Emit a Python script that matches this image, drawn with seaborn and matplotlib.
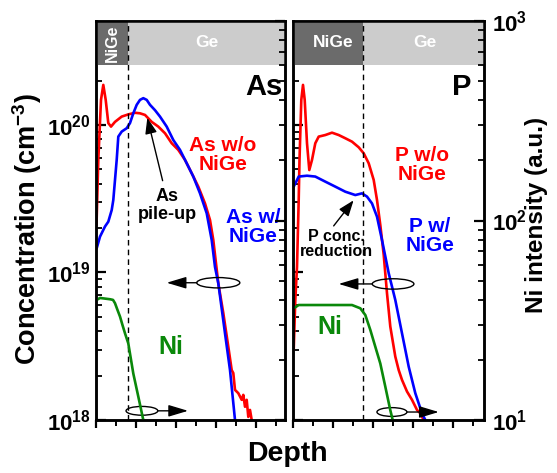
import numpy as np
import pandas as pd
import seaborn as sns
import matplotlib
matplotlib.use("Agg")
import matplotlib.pyplot as plt
from matplotlib.patches import Ellipse
from matplotlib.ticker import LogLocator, MultipleLocator, NullFormatter, FuncFormatter

# ---------------- data (depth in arbitrary units, concentration cm^-3, Ni a.u.) -------------
as_wo_depth = [0.25, 1.15, 2.5, 3.65, 4.85, 6.15, 7.5, 9.5, 12.85, 16.15, 19.5, 22, 24.5, 27.85,
               31.15, 34.5, 37.85, 41.15, 44.5, 47.85, 51.15, 54.5, 57, 58.65, 61.15, 63.65,
               66.15, 67.85, 68.65, 69.5, 71.15, 72.85, 73.65, 74.5, 75.35, 76.15, 77, 77.85]
as_wo_conc = [2.10e19, 5.80e19, 1.48e20, 1.87e20, 1.48e20, 1.03e20, 9.75e19, 1.05e20, 1.14e20,
              1.18e20, 1.21e20, 1.20e20, 1.17e20, 1.05e20, 9.75e19, 8.79e19, 7.52e19, 6.78e19,
              5.80e19, 4.71e19, 3.82e19, 2.94e19, 2.27e19, 1.66e19, 8.45e18, 5.31e18, 3.14e18,
              2.18e18, 2.08e18, 1.60e18, 1.52e18, 1.37e18, 1.48e18, 1.23e18, 1.37e18, 1.05e18,
              1.17e18, 1.0e18]

as_w_depth = [0.35, 2, 4.5, 6.15, 7.85, 8.65, 9.5, 10.35, 11.15, 12.85, 15.35, 17, 18.65, 20.35,
              22, 23.65, 25.35, 27, 29.5, 32, 35.35, 38.65, 42, 45.35, 48.65, 52, 55.35, 57.85,
              59.5, 61.15, 64.5, 67, 69.5]
as_w_conc = [1.46e19, 1.75e19, 2.05e19, 2.21e19, 2.65e19, 3.10e19, 4.24e19, 5.80e19, 8.34e19,
             9.02e19, 9.51e19, 1.03e20, 1.20e20, 1.37e20, 1.48e20, 1.52e20, 1.48e20, 1.37e20,
             1.26e20, 1.14e20, 9.75e19, 7.91e19, 6.78e19, 5.50e19, 4.47e19, 3.44e19, 2.52e19,
             1.66e19, 1.09e19, 8.45e18, 3.87e18, 2.18e18, 1.0e18]

ni_as_depth = [0.35, 2, 7, 8.5, 9.5, 10.75, 12, 13.25, 14.5, 16.15, 18.65, 21.15, 23.65]
ni_as_int = [40.0, 40.9, 40.3, 40.0, 38.5, 35.6, 33.0, 29.9, 27.2, 24.2, 17.1, 13.1, 10.0]

p_wo_depth = [0.35, 1.15, 2, 2.85, 3.25, 4.15, 5, 5.85, 7, 8.15, 9.5, 11.15, 12.85, 16.15, 19.5,
              22.85, 26.15, 29.5, 32.85, 35.35, 37.85, 40.35, 42, 43.65, 45.35, 47, 48.65, 51.15,
              52.85, 54.5, 57, 59.5, 62, 63.65, 65.35]
p_wo_conc = [2.99e18, 6.51e18, 1.09e19, 3.10e19, 5.80e19, 1.48e20, 1.87e20, 1.48e20, 7.52e19,
             4.95e19, 5.80e19, 7.52e19, 8.34e19, 8.55e19, 8.87e19, 8.55e19, 8.13e19, 7.71e19,
             7.06e19, 6.43e19, 5.50e19, 4.24e19, 3.10e19, 2.10e19, 1.32e19, 7.23e18, 4.30e18,
             2.69e18, 2.18e18, 1.87e18, 1.56e18, 1.37e18, 1.17e18, 1.11e18, 1.0e18]

p_w_depth = [0.35, 2.85, 7, 11.15, 16.15, 21.15, 26.15, 31.15, 34.5, 37, 39.5, 42, 44.5, 47.85,
             51.15, 54.5, 57.85, 61.15, 64.5, 66.15]
p_w_conc = [3.82e19, 4.47e19, 4.53e19, 4.47e19, 4.13e19, 3.82e19, 3.53e19, 3.35e19, 3.44e19,
            3.27e19, 2.94e19, 2.39e19, 1.66e19, 9.89e18, 6.51e18, 3.87e18, 2.30e18, 1.52e18,
            1.11e18, 1.0e18]

ni_p_depth = [0.35, 2.85, 16.15, 29.5, 33.65, 36.15, 38.65, 41.15, 43.65, 46.15, 48.65, 49.85]
ni_p_int = [36.3, 37.7, 37.7, 37.7, 36.3, 33.6, 28.3, 23.3, 19.2, 14.7, 11.2, 10.0]

interface_as = 16.15
interface_p = 35.15

RED, BLUE, GREEN = "#ff0000", "#0000ff", "#0a880a"
DARK, LIGHT = "#6b6b6b", "#cccccc"

# ---------------- style ----------------
sns.set_style("ticks")
plt.rcParams["font.family"] = ["Liberation Sans", "DejaVu Sans"]
plt.rcParams["font.weight"] = "bold"
plt.rcParams["text.color"] = "black"
plt.rcParams["axes.edgecolor"] = "black"
plt.rcParams["xtick.color"] = "black"
plt.rcParams["ytick.color"] = "black"
plt.rcParams["mathtext.fontset"] = "custom"
plt.rcParams["mathtext.rm"] = "Liberation Sans:bold"
plt.rcParams["mathtext.bf"] = "Liberation Sans:bold"
plt.rcParams["mathtext.it"] = "Liberation Sans:bold"
plt.rcParams["mathtext.default"] = "bf"

W, H = 557, 473
fig = plt.figure(figsize=(W / 100, H / 100), dpi=100)
ax1 = fig.add_axes([96 / W, 1 - 420 / H, 189 / W, 399 / H])
ax2 = fig.add_axes([293 / W, 1 - 420 / H, 191 / W, 399 / H])

pow_fmt = FuncFormatter(lambda v, p: r"$\mathbf{10^{%d}}$" % int(round(np.log10(v))))


def setup(ax, xmax, interface, left_labels, right_labels):
    tw = ax.twinx()
    for a in (ax, tw):
        a.set_yscale("log")
        a.set_xlim(0, xmax)
        for s in a.spines.values():
            s.set_linewidth(1.8)
            s.set_color("black")
            s.set_visible(True)
    ax.set_ylim(1e18, 5.07e20)
    tw.set_ylim(10, 1000)
    ax.xaxis.set_major_locator(MultipleLocator(20))
    ax.xaxis.set_minor_locator(MultipleLocator(10))
    ax.tick_params(axis="x", which="major", direction="out", length=6, width=1.6,
                   labelbottom=False, top=False)
    ax.tick_params(axis="x", which="minor", direction="out", length=4, width=1.4, top=False)
    for a in (ax, tw):
        a.yaxis.set_major_locator(LogLocator(base=10, numticks=10))
        a.yaxis.set_minor_locator(LogLocator(base=10, subs=np.arange(2, 10), numticks=20))
        a.yaxis.set_minor_formatter(NullFormatter())
    ax.tick_params(axis="y", which="major", direction="in", length=7, width=1.6,
                   left=True, right=False, labelsize=16, pad=4)
    ax.tick_params(axis="y", which="minor", direction="in", length=4, width=1.3,
                   left=True, right=False)
    tw.tick_params(axis="y", which="major", direction="in", length=7, width=1.6,
                   right=True, left=False, labelsize=16, pad=6)
    tw.tick_params(axis="y", which="minor", direction="in", length=4, width=1.3,
                   right=True, left=False)
    if left_labels:
        ax.yaxis.set_major_formatter(pow_fmt)
    else:
        ax.tick_params(axis="y", labelleft=False)
    if right_labels:
        tw.yaxis.set_major_formatter(pow_fmt)
    else:
        tw.tick_params(axis="y", labelright=False)
    tw.tick_params(axis="x", which="both", top=False, labeltop=False)
    # material band
    ax.axvspan(0, interface, ymin=0.89, ymax=1.0, color=DARK, lw=0, zorder=3)
    ax.axvspan(interface, xmax, ymin=0.89, ymax=1.0, color=LIGHT, lw=0, zorder=3)
    ax.axvline(interface, color="black", lw=1.0, ls=(0, (4, 3)), zorder=4)
    return tw


tw1 = setup(ax1, 94.5, interface_as, True, False)
tw2 = setup(ax2, 95.5, interface_p, False, True)

lw = 1.9
sns.lineplot(x=as_wo_depth, y=as_wo_conc, ax=ax1, color=RED, lw=lw, sort=False, estimator=None)
sns.lineplot(x=as_w_depth, y=as_w_conc, ax=ax1, color=BLUE, lw=lw, sort=False, estimator=None)
sns.lineplot(x=ni_as_depth, y=ni_as_int, ax=tw1, color=GREEN, lw=lw, sort=False, estimator=None)
sns.lineplot(x=p_wo_depth, y=p_wo_conc, ax=ax2, color=RED, lw=lw, sort=False, estimator=None)
sns.lineplot(x=p_w_depth, y=p_w_conc, ax=ax2, color=BLUE, lw=lw, sort=False, estimator=None)
sns.lineplot(x=ni_p_depth, y=ni_p_int, ax=tw2, color=GREEN, lw=lw, sort=False, estimator=None)

for a in (ax1, ax2, tw1, tw2):
    a.set_xlabel("")
    a.set_ylabel("")
for a, xm in ((ax1, 94.5), (ax2, 95.5)):
    a.set_xlim(0, xm)

# band labels
ax1.text(16.15 / 2 / 94.5, 0.945, "NiGe", transform=ax1.transAxes, rotation=90, color="white",
         fontsize=11.5, fontweight="bold", ha="center", va="center", zorder=5)
ax1.text(0.586, 0.945, "Ge", transform=ax1.transAxes, color="white",
         fontsize=12.5, fontweight="bold", ha="center", va="center", zorder=5)
ax2.text(0.209, 0.945, "NiGe", transform=ax2.transAxes, color="white",
         fontsize=12.5, fontweight="bold", ha="center", va="center", zorder=5)
ax2.text(0.688, 0.945, "Ge", transform=ax2.transAxes, color="white",
         fontsize=12.5, fontweight="bold", ha="center", va="center", zorder=5)

# annotations panel 1
T = dict(fontweight="bold", ha="center", va="center", linespacing=1.05)
ax1.text(0.889, 0.835, "As", transform=ax1.transAxes, fontsize=21, color="black", **T)
ax1.text(0.672, 0.664, "As w/o\nNiGe", transform=ax1.transAxes, fontsize=15, color=RED, **T)
ax1.text(0.830, 0.484, "As w/\nNiGe", transform=ax1.transAxes, fontsize=15, color=BLUE, **T)
ax1.text(0.376, 0.538, "As\npile-up", transform=ax1.transAxes, fontsize=13, color="black", **T)
ax1.text(0.396, 0.184, "Ni", transform=ax1.transAxes, fontsize=18, color=GREEN, **T)
ax1.annotate("", xy=(0.268, 0.764), xytext=(0.356, 0.593), xycoords="axes fraction",
             arrowprops=dict(arrowstyle="-|>,head_length=0.8,head_width=0.3", color="black",
                             lw=1.0, mutation_scale=12))

# annotations panel 2
ax2.text(0.885, 0.835, "P", transform=ax2.transAxes, fontsize=21, color="black", **T)
ax2.text(0.675, 0.639, "P w/o\nNiGe", transform=ax2.transAxes, fontsize=15, color=RED, **T)
ax2.text(0.717, 0.461, "P w/\nNiGe", transform=ax2.transAxes, fontsize=15, color=BLUE, **T)
ax2.text(0.225, 0.441, "P conc.\nreduction", transform=ax2.transAxes, fontsize=11.5,
         color="black", **T)
ax2.text(0.194, 0.234, "Ni", transform=ax2.transAxes, fontsize=18, color=GREEN, **T)
ax2.annotate("", xy=(0.326, 0.556), xytext=(0.204, 0.481), xycoords="axes fraction",
             arrowprops=dict(arrowstyle="-|>,head_length=0.8,head_width=0.3", color="black",
                             lw=1.0, mutation_scale=12))


def axis_marker(ax, cx, cy, w, h, x_from, x_to):
    ax.add_patch(Ellipse((cx, cy), w, h, transform=ax.transAxes, fill=False, ec="black",
                         lw=1.0, zorder=6, clip_on=False))
    ax.annotate("", xy=(x_to, cy), xytext=(x_from, cy), xycoords="axes fraction",
                arrowprops=dict(arrowstyle="-|>,head_length=1.0,head_width=0.3", color="black",
                                lw=1.0, mutation_scale=12, shrinkA=0, shrinkB=0), zorder=6)


axis_marker(ax1, 0.647, 0.344, 0.228, 0.026, 0.533, 0.374)
axis_marker(ax1, 0.243, 0.023, 0.168, 0.022, 0.327, 0.487)
axis_marker(ax2, 0.524, 0.341, 0.218, 0.026, 0.414, 0.239)
axis_marker(ax2, 0.518, 0.020, 0.157, 0.022, 0.597, 0.763)

# axis titles
fig.text(27 / W, 1 - 229 / H, r"Concentration (cm$^{\mathbf{-3}}$)", rotation=90,
         fontsize=19.5, fontweight="bold", ha="center", va="center", color="black")
fig.text(287 / W, 1 - 454 / H, "Depth", fontsize=20.5, fontweight="bold",
         ha="center", va="center", color="black")
fig.text(537 / W, 1 - 215 / H, "Ni intensity (a.u.)", rotation=90, fontsize=17.5,
         fontweight="bold", ha="center", va="center", color="black")

fig.savefig("out.png", dpi=100)
